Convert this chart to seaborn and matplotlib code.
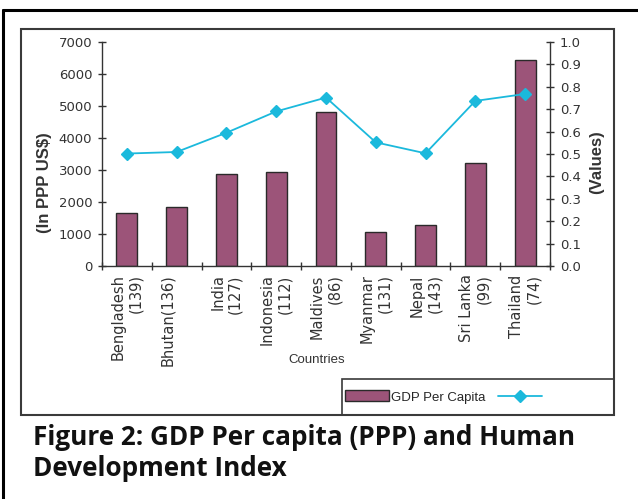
import numpy as np
import seaborn as sns
import matplotlib.pyplot as plt
from matplotlib.patches import Rectangle
from matplotlib.lines import Line2D

# Data
countries = ['Bengladesh\n(139)', 'Bhutan(136)\n ', 'India\n(127)', 'Indonesia\n(112)',
             'Maldives\n(86)', 'Myanmar\n(131)', 'Nepal\n(143)', 'Sri Lanka\n(99)', 'Thailand\n(74)']
gdp = [1670, 1835, 2875, 2940, 4810, 1075, 1290, 3230, 6435]
hdi = [0.502, 0.509, 0.595, 0.690, 0.752, 0.552, 0.503, 0.737, 0.768]
left_ticks = [0, 1000, 2000, 3000, 4000, 5000, 6000, 7000]
right_ticks = [0.0, 0.1, 0.2, 0.3, 0.4, 0.5, 0.6, 0.7, 0.8, 0.9, 1.0]

bar_color = '#9C5479'
line_color = '#1BB9DC'
ink = '#333333'

sns.set_style('ticks')
plt.rcParams['font.family'] = ['DejaVu Sans']

W, H = 638, 499
fig = plt.figure(figsize=(W / 100, H / 100), dpi=100)

# plot area in pixel terms of the reference
px_l, px_r, px_t, px_b = 102, 550, 42, 266
ax = fig.add_axes([px_l / W, 1 - px_b / H, (px_r - px_l) / W, (px_b - px_t) / H])

# bars
sns.barplot(x=countries, y=gdp, ax=ax, color=bar_color, width=0.42,
            edgecolor='#2a2a2a', linewidth=1, saturation=1)

# HDI line on secondary axis
ax2 = ax.twinx()
sns.pointplot(x=countries, y=hdi, ax=ax2, color=line_color, markers='D',
              markersize=6.5, linewidth=1.3, errorbar=None)

ax.set_xlim(-0.5, len(countries) - 0.5)
ax.set_ylim(0, 7000)
ax2.set_ylim(0, 1)

ax.set_yticks(left_ticks)
ax.set_yticklabels([str(v) for v in left_ticks])
ax2.set_yticks(right_ticks)
ax2.set_yticklabels([f'{v:.1f}' for v in right_ticks])

ax.set_xticks(np.arange(len(countries)))
ax.set_xticklabels(countries, rotation=90, ha='center', va='top',
                   multialignment='right', fontsize=10.5, color=ink)
ax.set_xticks(np.arange(-0.5, len(countries)), minor=True)
ax.tick_params(axis='x', which='major', length=0, pad=6)
ax.tick_params(axis='x', which='minor', length=6, direction='inout', color=ink, width=1)
ax.tick_params(axis='y', length=6, direction='inout', labelsize=9.5, colors=ink, width=1, pad=4)
ax2.tick_params(axis='y', length=6, direction='inout', labelsize=9.5, colors=ink, width=1, pad=4)
for lab in ax.get_yticklabels() + ax2.get_yticklabels():
    lab.set_color(ink)

ax.set_xlabel('')
ax.set_ylabel('')
ax2.set_ylabel('')

for s in ['top', 'right']:
    ax.spines[s].set_visible(False)
for s in ['top', 'left', 'bottom']:
    ax2.spines[s].set_visible(False)
for sp in [ax.spines['left'], ax.spines['bottom'], ax2.spines['right']]:
    sp.set_color(ink)
    sp.set_linewidth(1)

# axis titles
fig.text(45 / W, 1 - 183 / H, '(In PPP US$)', rotation=90, ha='center', va='center',
         fontsize=12, fontweight='bold', family=['Liberation Sans', 'DejaVu Sans'], color=ink)
fig.text(597 / W, 1 - 162 / H, '(Values)', rotation=90, ha='center', va='center',
         fontsize=12, fontweight='bold', family=['Liberation Sans', 'DejaVu Sans'], color=ink)
fig.text(317 / W, 1 - 360 / H, 'Countries', ha='center', va='center',
         fontsize=9.5, family=['Liberation Sans', 'DejaVu Sans'], color=ink)

# frames
fig.patches.append(Rectangle((21 / W, 1 - 415 / H), (614 - 21) / W, (415 - 29) / H,
                             transform=fig.transFigure, fill=False, edgecolor='#3a3a3a', linewidth=1.5))
fig.add_artist(Line2D([3 / W, 3 / W], [0, 1 - 10 / H], transform=fig.transFigure, color='black', linewidth=2.2))
fig.add_artist(Line2D([3 / W, 1], [1 - 10 / H, 1 - 10 / H], transform=fig.transFigure, color='black', linewidth=2.2))

# legend box
fig.patches.append(Rectangle((342 / W, 1 - 415 / H), (614 - 342) / W, (415 - 379) / H,
                             transform=fig.transFigure, fill=False, edgecolor='#3a3a3a', linewidth=1.2))
handles = [ax.containers[0][0], ax2.lines[0]]
fig.legend(handles, ['GDP Per Capita', ''], loc='center left',
           bbox_to_anchor=(345 / W, 1 - 397 / H), ncol=2, frameon=False,
           handlelength=3.3, handleheight=0.9, handletextpad=0.15, columnspacing=1.0,
           borderpad=0, borderaxespad=0,
           prop={'family': ['Liberation Sans', 'DejaVu Sans'], 'size': 9.5})

# caption
fig.text(33 / W, 1 - 424 / H, 'Figure 2: GDP Per capita (PPP) and Human\nDevelopment Index',
         ha='left', va='top', fontsize=18.8, fontweight='bold', linespacing=1.18,
         family=['Open Sans', 'DejaVu Sans'], color='#111111')

plt.savefig('out.png', dpi=100)
plt.close()
